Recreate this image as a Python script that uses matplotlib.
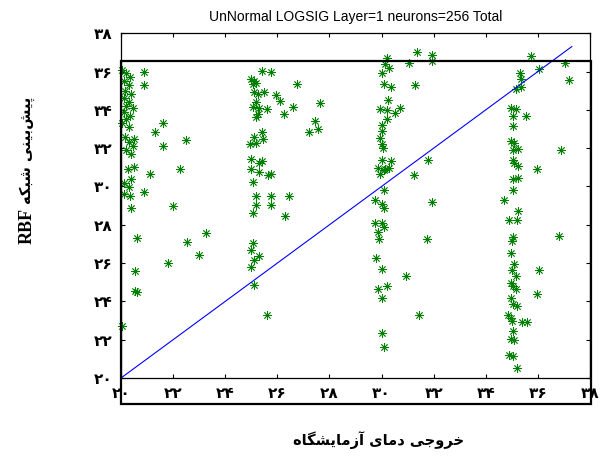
import matplotlib
matplotlib.use("Agg")
import matplotlib.pyplot as plt
from matplotlib.patches import Rectangle

# Measured lab temperature (x) vs RBF network prediction (y), grouped by set-point
x_group_20 = [20.05, 20.2, 20.35, 20.1, 20.3, 20.15, 20.4, 20.1, 20.3, 20.2, 20.45, 20.1,
              20.35, 20.2, 20.05, 20.3, 20.5, 20.15, 20.3, 20.45, 20.2, 20.4, 20.5, 20.25,
              20.4, 20.1, 20.3, 20.1, 20.35, 20.4,
              20.9, 20.9, 21.6, 21.3, 22.5, 21.6, 22.25, 21.1, 20.9, 22.0, 23.25, 20.6,
              22.55, 23.0, 21.8, 20.55, 20.55, 20.6, 20.05]
y_group_20 = [36.1, 35.9, 35.7, 35.5, 35.3, 35.0, 34.8, 34.6, 34.4, 34.2, 34.1, 33.9,
              33.7, 33.5, 33.3, 33.1, 32.5, 32.6, 32.3, 32.1, 31.9, 31.7, 31.0, 30.9,
              30.4, 30.2, 29.95, 29.6, 29.5, 28.9,
              36.0, 35.3, 33.3, 32.85, 32.45, 32.1, 30.9, 30.65, 29.7, 29.0, 27.55, 27.3,
              27.1, 26.4, 26.0, 25.6, 24.55, 24.5, 22.7]

x_group_25 = [25.4, 25.75, 25.0, 25.1, 25.2, 25.05, 26.75, 25.1, 25.5, 25.25, 25.95, 26.1,
              26.6, 27.65, 25.2, 25.05, 25.3, 25.6, 25.25, 26.25, 25.2, 27.45, 27.55, 27.2,
              25.4, 25.1, 25.45, 25.2, 24.95, 25.0, 25.4, 25.3, 25.0, 25.3, 25.65, 25.75,
              25.05, 25.2, 25.75, 26.45, 25.2, 25.75, 25.05, 26.3, 25.05, 25.0, 25.3, 25.1,
              25.0, 25.1, 25.6]
y_group_25 = [36.05, 36.0, 35.6, 35.5, 35.4, 35.35, 35.35, 34.95, 34.95, 34.8, 34.75, 34.45,
              34.15, 34.35, 34.4, 34.15, 34.1, 34.05, 33.8, 33.8, 33.6, 33.4, 33.0, 32.85,
              32.85, 32.6, 32.5, 32.25, 32.2, 31.45, 31.35, 31.2, 30.9, 30.75, 30.6, 30.65,
              30.25, 29.5, 29.5, 29.5, 29.05, 29.05, 28.6, 28.45, 27.05, 26.7, 26.35, 26.15,
              25.8, 24.85, 23.3]

x_group_30 = [31.35, 31.95, 31.95, 30.2, 30.15, 30.3, 31.05, 30.0, 30.1, 30.35, 31.3, 30.25,
              29.95, 30.2, 30.5, 30.7, 30.2, 30.0, 30.0, 29.95, 30.0, 30.05, 30.0, 30.35,
              29.85, 30.1, 30.3, 29.95, 30.15, 31.8, 31.25, 30.1, 29.75, 30.0, 30.1, 31.95,
              29.75, 30.0, 30.1, 29.85, 29.9, 31.75, 29.8, 30.0, 30.95, 29.85, 30.2, 30.0,
              31.45, 30.0, 30.1]
y_group_30 = [37.0, 36.85, 36.55, 36.7, 36.4, 36.2, 36.45, 35.9, 35.35, 35.2, 35.3, 34.5,
              34.05, 34.0, 33.85, 34.1, 33.5, 33.2, 32.9, 32.55, 32.2, 32.0, 31.4, 31.35,
              30.95, 30.85, 30.95, 30.65, 30.9, 31.4, 30.6, 29.8, 29.3, 29.1, 28.9, 29.2,
              28.1, 28.1, 27.9, 27.6, 27.25, 27.25, 26.25, 25.7, 25.3, 24.65, 24.8, 24.2,
              23.3, 22.35, 21.6]

x_group_35 = [35.75, 37.05, 36.05, 37.2, 35.3, 35.35, 35.15, 35.35, 34.95, 35.15, 35.05, 35.55,
              35.05, 34.95, 35.1, 35.05, 35.25, 36.9, 35.05, 35.1, 35.25, 35.95, 35.05, 35.25,
              35.05, 34.7, 35.25, 34.9, 35.2, 36.8, 35.05, 35.0, 34.95, 35.1, 35.0, 36.05,
              35.15, 34.95, 35.15, 35.05, 35.95, 34.95, 35.05, 35.2, 34.85, 34.95, 35.4, 35.6,
              35.0, 35.05, 34.95, 35.1, 34.9, 35.05, 35.2]
y_group_35 = [36.8, 36.45, 36.15, 35.55, 35.9, 35.6, 35.1, 35.2, 34.1, 34.05, 33.7, 33.7,
              33.15, 32.35, 32.25, 31.9, 31.95, 31.9, 31.4, 31.2, 31.05, 30.9, 30.4, 30.45,
              29.8, 29.3, 28.7, 28.25, 28.25, 27.4, 27.35, 27.15, 26.5, 25.95, 25.65, 25.65,
              25.3, 24.95, 24.65, 24.8, 24.4, 24.2, 23.85, 23.75, 23.3, 23.15, 22.95, 22.9,
              23.0, 22.45, 22.05, 22.0, 21.2, 21.15, 20.5]

# ideal fit line end points
fit_x = [20, 37.3]
fit_y = [20, 37.3]

tick_values = [20, 22, 24, 26, 28, 30, 32, 34, 36, 38]
tick_labels = ['۲۰', '۲۲', '۲۴', '۲۶', '۲۸', '۳۰', '۳۲', '۳۴', '۳۶', '۳۸']

title_text = 'UnNormal LOGSIG Layer=1 neurons=256 Total'
x_label_fa = 'خروجی دمای آزمایشگاه'
y_label_fa = 'پیش‌بینی شبکه'
y_label_en = 'RBF'

# presentation forms: isolated, final, initial, medial
FORMS = {
    'ا': ('\uFE8D', '\uFE8E', None, None),
    'آ': ('\uFE81', '\uFE82', None, None),
    'ب': ('\uFE8F', '\uFE90', '\uFE91', '\uFE92'),
    'پ': ('\uFB56', '\uFB57', '\uFB58', '\uFB59'),
    'ج': ('\uFE9D', '\uFE9E', '\uFE9F', '\uFEA0'),
    'خ': ('\uFEA5', '\uFEA6', '\uFEA7', '\uFEA8'),
    'د': ('\uFEA9', '\uFEAA', None, None),
    'ر': ('\uFEAD', '\uFEAE', None, None),
    'ز': ('\uFEAF', '\uFEB0', None, None),
    'ش': ('\uFEB5', '\uFEB6', '\uFEB7', '\uFEB8'),
    'ک': ('\uFB8E', '\uFB8F', '\uFB90', '\uFB91'),
    'گ': ('\uFB92', '\uFB93', '\uFB94', '\uFB95'),
    'م': ('\uFEE1', '\uFEE2', '\uFEE3', '\uFEE4'),
    'ن': ('\uFEE5', '\uFEE6', '\uFEE7', '\uFEE8'),
    'ه': ('\uFEE9', '\uFEEA', '\uFEEB', '\uFEEC'),
    'و': ('\uFEED', '\uFEEE', None, None),
    'ی': ('\uFBFC', '\uFBFD', '\uFBFE', '\uFBFF'),
}


def shape_persian(text):
    """Join Persian letters and return them in visual (left-to-right) order."""
    out = []
    for i, ch in enumerate(text):
        if ch not in FORMS:
            if ch != '\u200c':
                out.append(ch)
            continue
        prev = text[i - 1] if i > 0 else ''
        nxt = text[i + 1] if i + 1 < len(text) else ''
        joins_prev = prev in FORMS and FORMS[prev][2] is not None
        joins_next = FORMS[ch][2] is not None and nxt in FORMS
        iso, fin, ini, med = FORMS[ch]
        if joins_prev and joins_next:
            out.append(med)
        elif joins_prev:
            out.append(fin)
        elif joins_next:
            out.append(ini)
        else:
            out.append(iso)
    return ''.join(reversed(out))


def main():
    fig = plt.figure(figsize=(6.12, 4.61), dpi=100)
    ax = fig.add_axes([0.1977, 0.180, 0.7664, 0.748])

    marker = (8, 2, 0)
    green = (0, 0.5, 0)
    for xs, ys in [(x_group_20, y_group_20), (x_group_25, y_group_25),
                   (x_group_30, y_group_30), (x_group_35, y_group_35)]:
        ax.plot(xs, ys, linestyle='none', marker=marker, ms=6, mew=0.6,
                color=green, clip_on=False)
    ax.plot(fit_x, fit_y, color='blue', lw=0.8, clip_on=False)

    ax.set_xlim(20, 38)
    ax.set_ylim(20, 38)
    ax.set_xticks(tick_values)
    ax.set_yticks(tick_values)
    ax.set_xticklabels(tick_labels, fontsize=11, fontweight='bold', family='DejaVu Sans')
    ax.set_yticklabels(tick_labels, fontsize=11, fontweight='bold', family='DejaVu Sans')
    ax.tick_params(direction='in', length=3, width=0.8, top=True, right=True)
    ax.tick_params(axis='x', pad=6)
    ax.tick_params(axis='y', pad=6)
    for spine in ax.spines.values():
        spine.set_linewidth(0.9)

    ax.set_title(title_text, fontsize=10, family='Liberation Sans', pad=9)

    # outer frame
    fig.patches.append(Rectangle((0.1977, 0.1236), 0.768, 0.744, transform=fig.transFigure,
                                 fill=False, lw=1.6, ec='black', zorder=5))

    fig.text(379 / 612, 1 - 440 / 461, shape_persian(x_label_fa), ha='center', va='center',
             fontsize=10.5, fontweight='bold', family='DejaVu Sans')
    fig.text(27 / 612, 1 - 208 / 461, y_label_en, rotation=90, ha='center', va='top',
             fontsize=13, fontweight='bold', family='Liberation Serif')
    fig.text(27 / 612, 1 - 204 / 461, shape_persian(y_label_fa), rotation=90,
             ha='center', va='bottom', fontsize=10.5, fontweight='bold', family='DejaVu Sans')

    fig.savefig('out.png', dpi=100)


if __name__ == '__main__':
    main()
